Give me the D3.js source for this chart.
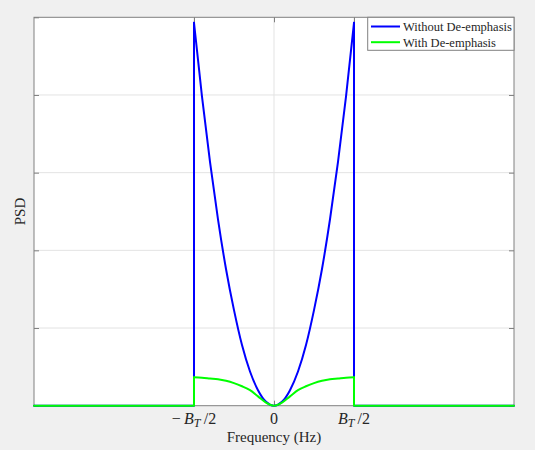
<!DOCTYPE html>
<html>
<head>
<meta charset="utf-8">
<script src="https://cdn.jsdelivr.net/npm/d3@7"></script>
<style>
  body { margin: 0; background: #f0f0f0; }
  svg { display: block; }
  text { font-family: "Liberation Serif", "Times New Roman", serif; fill: #262626; }
</style>
</head>
<body>
<svg width="535" height="450"></svg>
<script>
// Frequency, in units of B_T/2, inside the band
const freq = [-1, -0.9, -0.8, -0.7, -0.6, -0.5, -0.4, -0.3, -0.2, -0.1, 0,
  0.1, 0.2, 0.3, 0.4, 0.5, 0.6, 0.7, 0.8, 0.9, 1];
const psdWithout = [4.93, 3.98, 3.14, 2.4, 1.76, 1.23, 0.78, 0.44, 0.2, 0.05, 0,
  0.05, 0.2, 0.44, 0.78, 1.23, 1.76, 2.4, 3.14, 3.98, 4.93];
const psdWith = [0.365, 0.36, 0.35, 0.34, 0.32, 0.29, 0.25, 0.2, 0.12, 0.04, 0,
  0.04, 0.12, 0.2, 0.25, 0.29, 0.32, 0.34, 0.35, 0.36, 0.365];
const xLimits = [-3, 3];
const yLimits = [0, 5];
const xTicks = [-1, 0, 1];
const xTickLabels = [["\u2212", "B", "T", "/2"], ["", "0", "", ""], ["", "B", "T", "/2"]];
const yTicks = [0, 1, 2, 3, 4, 5];
const seriesNames = ["Without De-emphasis", "With De-emphasis"];
const seriesColors = ["#0000ff", "#00ff00"];

const svg = d3.select("svg");
const axLeft = 34, axRight = 514, axTop = 17.3, axBottom = 405.7;

const xScale = d3.scaleLinear().domain(xLimits).range([axLeft, axRight]);
const yScale = d3.scaleLinear().domain(yLimits).range([axBottom, axTop]);

// Axes background
svg.append("rect")
  .attr("x", axLeft).attr("y", axTop)
  .attr("width", axRight - axLeft).attr("height", axBottom - axTop)
  .attr("fill", "#ffffff");

// Grid
const grid = svg.append("g").attr("stroke", "#e3e3e3").attr("stroke-width", 1);
grid.selectAll("line.gy")
  .data(yTicks.slice(1, -1))
  .enter().append("line")
  .attr("x1", axLeft).attr("x2", axRight)
  .attr("y1", (d) => yScale(d)).attr("y2", (d) => yScale(d));
grid.selectAll("line.gx")
  .data(xTicks)
  .enter().append("line")
  .attr("y1", axTop).attr("y2", axBottom)
  .attr("x1", (d) => xScale(d)).attr("x2", (d) => xScale(d));

// Axis box and tick marks
const axisColor = "#808080";
function tickMarks(axis, transform) {
  svg.append("g")
    .attr("transform", transform)
    .call(axis.tickSizeInner(-5).tickSizeOuter(0).tickFormat(""))
    .call((g) => g.select(".domain").remove())
    .selectAll("line").attr("stroke", axisColor);
}
tickMarks(d3.axisBottom(xScale).tickValues(xTicks), "translate(0," + axBottom + ")");
tickMarks(d3.axisTop(xScale).tickValues(xTicks), "translate(0," + axTop + ")");
tickMarks(d3.axisLeft(yScale).tickValues(yTicks), "translate(" + axLeft + ",0)");
tickMarks(d3.axisRight(yScale).tickValues(yTicks), "translate(" + axRight + ",0)");
svg.append("rect")
  .attr("x", axLeft).attr("y", axTop)
  .attr("width", axRight - axLeft).attr("height", axBottom - axTop)
  .attr("fill", "none").attr("stroke", axisColor).attr("stroke-width", 1);

// Series
const inner = d3.line()
  .x((d) => xScale(d[0]))
  .y((d) => yScale(d[1]))
  .curve(d3.curveMonotoneX);
const straight = d3.line()
  .x((d) => xScale(d[0]))
  .y((d) => yScale(d[1]));

[psdWithout, psdWith].forEach(function (vals, i) {
  const pts = freq.map((f, j) => [f, vals[j]]);
  const g = svg.append("g")
    .attr("fill", "none")
    .attr("stroke", seriesColors[i])
    .attr("stroke-width", 2)
    .attr("stroke-linejoin", "round")
    .attr("stroke-linecap", "round");
  g.append("path").attr("d", inner(pts));
  g.append("path").attr("d", straight([[xLimits[0], 0], [freq[0], 0], pts[0]]));
  g.append("path").attr("d", straight([pts[pts.length - 1], [freq[freq.length - 1], 0], [xLimits[1], 0]]));
});

// Tick labels (TeX-like: italic B with subscript T)
const tickText = svg.append("g")
  .selectAll("text")
  .data(xTicks)
  .enter().append("text")
  .attr("x", (d) => xScale(d))
  .attr("y", 424)
  .attr("text-anchor", "middle")
  .style("font-size", "16px");
tickText.each(function (d, i) {
  const parts = xTickLabels[i];
  const t = d3.select(this);
  if (parts[0]) t.append("tspan").text(parts[0] + "\u2009");
  t.append("tspan").style("font-style", parts[2] ? "italic" : "normal").text(parts[1]);
  if (parts[2]) {
    t.append("tspan").style("font-style", "italic").style("font-size", "12px")
      .attr("dy", 3).text(parts[2]);
    t.append("tspan").attr("dy", -3).text("\u2009" + parts[3]);
  }
});

// Axis titles
svg.append("text")
  .attr("x", (axLeft + axRight) / 2)
  .attr("y", 442)
  .attr("text-anchor", "middle")
  .style("font-size", "15px")
  .text("Frequency (Hz)");
svg.append("text")
  .attr("text-anchor", "middle")
  .attr("transform", "translate(25," + (axTop + axBottom) / 2 + ")rotate(-90)")
  .style("font-size", "15px")
  .text("PSD");

// Legend
const legend = svg.append("g");
legend.append("rect")
  .attr("x", 367.7).attr("y", axTop)
  .attr("width", axRight - 367.7).attr("height", 33)
  .attr("fill", "#ffffff").attr("stroke", axisColor).attr("stroke-width", 1);
seriesNames.forEach(function (name, i) {
  const y = 26.5 + i * 15.7;
  legend.append("line")
    .attr("x1", 371).attr("x2", 400)
    .attr("y1", y).attr("y2", y)
    .attr("stroke", seriesColors[i]).attr("stroke-width", 2);
  legend.append("text")
    .attr("x", 403).attr("y", y + 4.3)
    .style("font-size", "12.5px")
    .text(name);
});
</script>
</body>
</html>
